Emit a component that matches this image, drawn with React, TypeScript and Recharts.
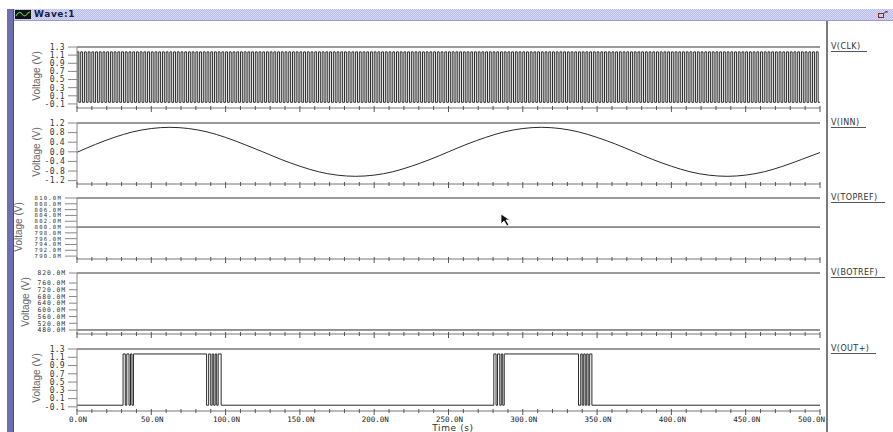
import React from "react";
import { LineChart, Line, XAxis, YAxis, ReferenceLine } from "recharts";

// time axis (ns)
const minorTimes = [
  0, 10, 20, 30, 40, 50, 60, 70, 80, 90, 100, 110, 120, 130, 140, 150, 160, 170, 180, 190, 200,
  210, 220, 230, 240, 250, 260, 270, 280, 290, 300, 310, 320, 330, 340, 350, 360, 370, 380, 390,
  400, 410, 420, 430, 440, 450, 460, 470, 480, 490, 500,
];
const majorTimes = [0, 50, 100, 150, 200, 250, 300, 350, 400, 450, 500];
const majorLabels = ["0.0N", "50.0N", "100.0N", "150.0N", "200.0N", "250.0N", "300.0N", "350.0N", "400.0N", "450.0N", "500.0N"];

// V(CLK): times (ns) where the clock toggles
const clkToggles = [
  0, 1.25, 2.5, 3.75, 5, 6.25, 7.5, 8.75, 10, 11.25, 12.5, 13.75, 15, 16.25, 17.5, 18.75, 20, 21.25, 22.5, 23.75,
  25, 26.25, 27.5, 28.75, 30, 31.25, 32.5, 33.75, 35, 36.25, 37.5, 38.75, 40, 41.25, 42.5, 43.75, 45, 46.25, 47.5, 48.75,
  50, 51.25, 52.5, 53.75, 55, 56.25, 57.5, 58.75, 60, 61.25, 62.5, 63.75, 65, 66.25, 67.5, 68.75, 70, 71.25, 72.5, 73.75,
  75, 76.25, 77.5, 78.75, 80, 81.25, 82.5, 83.75, 85, 86.25, 87.5, 88.75, 90, 91.25, 92.5, 93.75, 95, 96.25, 97.5, 98.75,
  100, 101.25, 102.5, 103.75, 105, 106.25, 107.5, 108.75, 110, 111.25, 112.5, 113.75, 115, 116.25, 117.5, 118.75, 120, 121.25, 122.5, 123.75,
  125, 126.25, 127.5, 128.75, 130, 131.25, 132.5, 133.75, 135, 136.25, 137.5, 138.75, 140, 141.25, 142.5, 143.75, 145, 146.25, 147.5, 148.75,
  150, 151.25, 152.5, 153.75, 155, 156.25, 157.5, 158.75, 160, 161.25, 162.5, 163.75, 165, 166.25, 167.5, 168.75, 170, 171.25, 172.5, 173.75,
  175, 176.25, 177.5, 178.75, 180, 181.25, 182.5, 183.75, 185, 186.25, 187.5, 188.75, 190, 191.25, 192.5, 193.75, 195, 196.25, 197.5, 198.75,
  200, 201.25, 202.5, 203.75, 205, 206.25, 207.5, 208.75, 210, 211.25, 212.5, 213.75, 215, 216.25, 217.5, 218.75, 220, 221.25, 222.5, 223.75,
  225, 226.25, 227.5, 228.75, 230, 231.25, 232.5, 233.75, 235, 236.25, 237.5, 238.75, 240, 241.25, 242.5, 243.75, 245, 246.25, 247.5, 248.75,
  250, 251.25, 252.5, 253.75, 255, 256.25, 257.5, 258.75, 260, 261.25, 262.5, 263.75, 265, 266.25, 267.5, 268.75, 270, 271.25, 272.5, 273.75,
  275, 276.25, 277.5, 278.75, 280, 281.25, 282.5, 283.75, 285, 286.25, 287.5, 288.75, 290, 291.25, 292.5, 293.75, 295, 296.25, 297.5, 298.75,
  300, 301.25, 302.5, 303.75, 305, 306.25, 307.5, 308.75, 310, 311.25, 312.5, 313.75, 315, 316.25, 317.5, 318.75, 320, 321.25, 322.5, 323.75,
  325, 326.25, 327.5, 328.75, 330, 331.25, 332.5, 333.75, 335, 336.25, 337.5, 338.75, 340, 341.25, 342.5, 343.75, 345, 346.25, 347.5, 348.75,
  350, 351.25, 352.5, 353.75, 355, 356.25, 357.5, 358.75, 360, 361.25, 362.5, 363.75, 365, 366.25, 367.5, 368.75, 370, 371.25, 372.5, 373.75,
  375, 376.25, 377.5, 378.75, 380, 381.25, 382.5, 383.75, 385, 386.25, 387.5, 388.75, 390, 391.25, 392.5, 393.75, 395, 396.25, 397.5, 398.75,
  400, 401.25, 402.5, 403.75, 405, 406.25, 407.5, 408.75, 410, 411.25, 412.5, 413.75, 415, 416.25, 417.5, 418.75, 420, 421.25, 422.5, 423.75,
  425, 426.25, 427.5, 428.75, 430, 431.25, 432.5, 433.75, 435, 436.25, 437.5, 438.75, 440, 441.25, 442.5, 443.75, 445, 446.25, 447.5, 448.75,
  450, 451.25, 452.5, 453.75, 455, 456.25, 457.5, 458.75, 460, 461.25, 462.5, 463.75, 465, 466.25, 467.5, 468.75, 470, 471.25, 472.5, 473.75,
  475, 476.25, 477.5, 478.75, 480, 481.25, 482.5, 483.75, 485, 486.25, 487.5, 488.75, 490, 491.25, 492.5, 493.75, 495, 496.25, 497.5, 498.75,
];
const clkHigh = 1.18;
const clkLow = -0.06;

// V(INN)
const innTime = [
  0, 12.5, 25, 37.5, 50, 62.5, 75, 87.5, 100, 112.5, 125, 137.5, 150, 162.5, 175, 187.5, 200, 212.5, 225, 237.5,
  250, 262.5, 275, 287.5, 300, 312.5, 325, 337.5, 350, 362.5, 375, 387.5, 400, 412.5, 425, 437.5, 450, 462.5, 475, 487.5, 500,
];
const innVolt = [
  -0.02, 0.31, 0.6, 0.83, 0.97, 1.02, 0.97, 0.83, 0.6, 0.31, 0.0, -0.32, -0.6, -0.83, -0.97, -1.02, -0.97, -0.83, -0.6, -0.32,
  0.0, 0.32, 0.6, 0.83, 0.97, 1.02, 0.97, 0.83, 0.6, 0.32, 0.0, -0.32, -0.6, -0.83, -0.97, -1.02, -0.97, -0.83, -0.6, -0.32, -0.03,
];

// V(TOPREF), V(BOTREF) in mV
const topRef = 800;
const botRef = 480;

// V(OUT+): toggle times (ns), starting low
const outToggles = [
  31, 32.5, 33.5, 35, 36, 37, 38,
  87.2, 88.6, 90, 91, 92, 93, 94, 95, 97,
  280.5, 282, 283, 284.5, 285.5, 286.5, 287.5,
  337.5, 339, 340, 341, 342, 343, 344, 345, 346.5,
];
const outHigh = 1.18;
const outLow = -0.06;

// y ticks
const clkTicks = [1.3, 1.1, 0.9, 0.7, 0.5, 0.3, 0.1, -0.1];
const innTicks = [1.2, 0.8, 0.4, 0.0, -0.4, -0.8, -1.2];
const topTicks = [810, 808, 806, 804, 802, 800, 798, 796, 794, 792, 790];
const botTicks = [820, 760, 720, 680, 640, 600, 560, 520, 480];
const outTicks = [1.3, 1.1, 0.9, 0.7, 0.5, 0.3, 0.1, -0.1];

function stepSeries(toggles: number[], high: number, low: number) {
  const pts = [{ t: 0, v: low }];
  let level = low;
  toggles.forEach((t) => {
    pts.push({ t, v: level });
    level = level === low ? high : low;
    pts.push({ t, v: level });
  });
  pts.push({ t: 500, v: level });
  return pts;
}

const clkData = stepSeries(clkToggles, clkHigh, clkLow);
const innData = innTime.map((t, i) => ({ t, v: innVolt[i] }));
const topData = [{ t: 0, v: topRef }, { t: 500, v: topRef }];
const botData = [{ t: 0, v: botRef }, { t: 500, v: botRef }];
const outData = stepSeries(outToggles, outHigh, outLow);

const volt = (v: number) => v.toFixed(1);
const milli = (v: number) => v.toFixed(1) + "M";

const panels = [
  { name: "V(CLK)", data: clkData, top: 47, bottom: 108, domain: [-0.2, 1.3], ticks: clkTicks, fmt: volt, tickSize: 9, fs: 8, ls: 0.3, labelX: 36 },
  { name: "V(INN)", data: innData, top: 123, bottom: 184, domain: [-1.34, 1.2], ticks: innTicks, fmt: volt, tickSize: 9, fs: 8, ls: 0.3, labelX: 36, smooth: true },
  { name: "V(TOPREF)", data: topData, top: 198, bottom: 259, domain: [789, 810], ticks: topTicks, fmt: milli, tickSize: 12, fs: 5.6, ls: 1.2, labelX: 18 },
  { name: "V(BOTREF)", data: botData, top: 273, bottom: 334, domain: [456, 820], ticks: botTicks, fmt: milli, tickSize: 8, fs: 6.4, ls: 0.9, labelX: 25 },
  { name: "V(OUT+)", data: outData, top: 349, bottom: 411, domain: [-0.2, 1.3], ticks: outTicks, fmt: volt, tickSize: 9, fs: 8, ls: 0.3, labelX: 36, last: true },
];

const MONO = "'DejaVu Sans Mono', 'Liberation Mono', monospace";
const SANS = "'DejaVu Sans', 'Liberation Sans', sans-serif";

function TimeTick(props: any) {
  const { x, y, payload, showLabel } = props;
  const idx = majorTimes.indexOf(payload.value);
  const major = idx >= 0;
  const isLast = payload.value === 500;
  return (
    <g>
      <line x1={x} x2={x} y1={y - 2} y2={y + (major ? 4 : 2)} stroke="#555" strokeWidth={1} />
      {showLabel && major && (
        <text
          x={isLast ? x + 5 : x + 1}
          y={y + 11}
          textAnchor={isLast ? "end" : "middle"}
          fontFamily={MONO}
          fontSize={7.5}
          fill="#222"
        >
          {majorLabels[idx]}
        </text>
      )}
    </g>
  );
}

function Panel({ p }: { p: any }) {
  const padTop = 6;
  const xh = p.last ? 20 : 8;
  const h = p.bottom - p.top + padTop + xh;
  return (
    <div style={{ position: "absolute", left: 0, top: p.top - padTop }}>
      <LineChart width={893} height={h} data={p.data} margin={{ top: padTop, right: 73, bottom: 0, left: 0 }}>
        <XAxis
          dataKey="t"
          type="number"
          domain={[0, 500]}
          ticks={minorTimes}
          interval={0}
          height={xh}
          tickSize={0}
          tickMargin={0}
          tickLine={false}
          axisLine={{ stroke: "#777" }}
          tick={(tp: any) => <TimeTick {...tp} showLabel={!!p.last} />}
          allowDataOverflow
        />
        <YAxis
          type="number"
          domain={p.domain}
          ticks={p.ticks}
          interval={0}
          width={77}
          tickSize={p.tickSize}
          tickMargin={3}
          tickFormatter={p.fmt}
          tickLine={{ stroke: "#888" }}
          axisLine={{ stroke: "#888" }}
          tick={{ fontSize: p.fs, fontFamily: MONO, fill: "#333", letterSpacing: p.ls }}
          allowDataOverflow
        />
        <ReferenceLine y={p.domain[1]} stroke="#9a9a9a" strokeWidth={2} />
        <Line
          dataKey="v"
          type={p.smooth ? "monotone" : "linear"}
          stroke="#2a2a2a"
          strokeWidth={1}
          dot={false}
          activeDot={false}
          isAnimationActive={false}
        />
      </LineChart>
    </div>
  );
}

export default function App() {
  return (
    <div
      style={{
        position: "absolute",
        left: 0,
        top: 0,
        width: 893,
        height: 432,
        background: "#fff",
        overflow: "hidden",
        fontFamily: SANS,
      }}
    >
      {/* title bar */}
      <div
        style={{
          position: "absolute",
          left: 7,
          top: 9,
          width: 886,
          height: 11,
          background: "repeating-conic-gradient(#b8bbe9 0 25%, #d9dbf7 0 50%) 0 0 / 2px 2px",
          borderBottom: "1px solid #9a9cd0",
        }}
      />
      <svg style={{ position: "absolute", left: 15, top: 10 }} width={16} height={9}>
        <rect x={0} y={0} width={16} height={9} fill="#111" />
        <path d="M1 6 Q4 0 7 4 T13 3 L15 2" stroke="#4ec24e" strokeWidth={1.2} fill="none" />
      </svg>
      <div style={{ position: "absolute", left: 34, top: 9, fontSize: 9, fontWeight: "bold", color: "#1b1b4a", lineHeight: "11px", letterSpacing: 0.6 }}>
        Wave:1
      </div>
      <svg style={{ position: "absolute", left: 878, top: 11 }} width={10} height={8}>
        <rect x={0.5} y={2.5} width={5} height={4} fill="none" stroke="#7a2a2a" />
        <path d="M5 3 L9 0 M7 0 L9 0 L9 2" stroke="#7a2a2a" fill="none" />
      </svg>
      {/* left frame strip */}
      <div style={{ position: "absolute", left: 7, top: 9, width: 6, height: 423, background: "#6d6fae", borderRight: "1px solid #4a4c86" }} />
      {/* legend separator */}
      <div style={{ position: "absolute", left: 826, top: 21, width: 1.5, height: 411, background: "#7a7a7a" }} />

      {panels.map((p) => (
        <Panel key={p.name} p={p} />
      ))}

      {panels.map((p) => (
        <div
          key={"y" + p.name}
          style={{
            position: "absolute",
            left: p.labelX,
            top: (p.top + p.bottom) / 2 - 2,
            transform: "translate(-50%, -50%) rotate(-90deg)",
            fontSize: 10,
            fontFamily: "'Liberation Sans', Arial, sans-serif",
            color: "#666",
            whiteSpace: "nowrap",
          }}
        >
          Voltage (V)
        </div>
      ))}

      {panels.map((p) => (
        <div
          key={"l" + p.name}
          style={{
            position: "absolute",
            left: 831,
            top: p.top - 5,
            fontSize: 8,
            lineHeight: "9px",
            color: "#333",
            letterSpacing: 0.4,
            borderBottom: "1px solid #555",
            paddingRight: 7,
            whiteSpace: "nowrap",
          }}
        >
          {p.name}
        </div>
      ))}

      <div style={{ position: "absolute", left: 453, top: 428, transform: "translate(-50%, -50%)", fontSize: 9, lineHeight: "9px", color: "#333", letterSpacing: 0.6, whiteSpace: "nowrap" }}>
        Time (s)
      </div>

      {/* mouse pointer */}
      <svg style={{ position: "absolute", left: 500, top: 213 }} width={12} height={14}>
        <path d="M1 1 L1 11 L4 8 L7 13 L9 12 L6 7 L10 7 Z" fill="#111" stroke="#fff" strokeWidth={0.8} />
      </svg>
    </div>
  );
}
